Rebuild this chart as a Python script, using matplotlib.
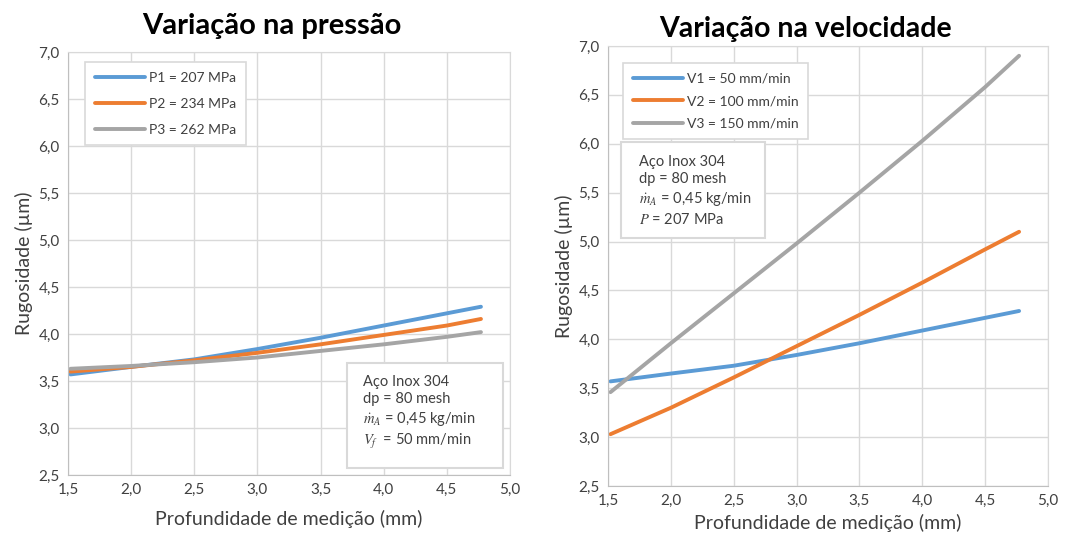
import matplotlib.pyplot as plt
from matplotlib.patches import Rectangle

plt.rcParams['font.family'] = ['Lato', 'DejaVu Sans']
plt.rcParams['mathtext.fontset'] = 'stix'

# depth of measurement (mm)
prof = [1.52, 2.0, 2.5, 3.0, 3.5, 4.0, 4.5, 4.77]

# pressure variation
p1 = [3.57, 3.65, 3.73, 3.84, 3.96, 4.09, 4.22, 4.29]
p2 = [3.60, 3.65, 3.72, 3.80, 3.89, 3.99, 4.09, 4.16]
p3 = [3.63, 3.66, 3.70, 3.75, 3.82, 3.89, 3.97, 4.02]

# speed variation
v1 = [3.57, 3.65, 3.73, 3.84, 3.96, 4.09, 4.22, 4.29]
v2 = [3.03, 3.30, 3.61, 3.93, 4.25, 4.58, 4.92, 5.10]
v3 = [3.46, 3.96, 4.47, 4.98, 5.50, 6.03, 6.58, 6.90]

labels_p = ['P1 = 207 MPa', 'P2 = 234 MPa', 'P3 = 262 MPa']
labels_v = ['V1 = 50 mm/min', 'V2 = 100 mm/min', 'V3 = 150 mm/min']
colors = ['#5B9BD5', '#ED7D31', '#A5A5A5']

W, H = 1069, 538
fig = plt.figure(figsize=(W / 100, H / 100), dpi=100)

def px_axes(x0, y0, x1, y1):
    return fig.add_axes([x0 / W, 1 - y1 / H, (x1 - x0) / W, (y1 - y0) / H])

ax1 = px_axes(68, 52, 510, 475)
ax2 = px_axes(608, 46, 1048, 486)

def style(ax):
    ax.set_xlim(1.5, 5.0)
    ax.set_ylim(2.5, 7.0)
    ticks_x = [1.5, 2.0, 2.5, 3.0, 3.5, 4.0, 4.5, 5.0]
    ticks_y = [2.5, 3.0, 3.5, 4.0, 4.5, 5.0, 5.5, 6.0, 6.5, 7.0]
    ax.set_xticks(ticks_x)
    ax.set_yticks(ticks_y)
    ax.set_xticklabels([f'{t:.1f}'.replace('.', ',') for t in ticks_x])
    ax.set_yticklabels([f'{t:.1f}'.replace('.', ',') for t in ticks_y])
    ax.grid(True, color='#D9D9D9', linewidth=1.0)
    ax.set_axisbelow(True)
    for s in ax.spines.values():
        s.set_color('#D9D9D9')
    ax.spines['left'].set_color('#BFBFBF')
    ax.spines['bottom'].set_color('#BFBFBF')
    ax.tick_params(length=0, labelsize=11, colors='#404040', pad=6)
    ax.set_ylabel('Rugosidade (µm)', fontsize=14, color='#404040', labelpad=4)

style(ax1)
style(ax2)

for y, lab, c in zip([p1, p2, p3], labels_p, colors):
    ax1.plot(prof, y, color=c, linewidth=2.8, label=lab, solid_capstyle='round')
for y, lab, c in zip([v1, v2, v3], labels_v, colors):
    ax2.plot(prof, y, color=c, linewidth=2.8, label=lab, solid_capstyle='round')

ax1.set_xlabel('Profundidade de medição (mm)', fontsize=14, color='#404040', labelpad=9)
ax2.set_xlabel('Profundidade de medição (mm)', fontsize=14, color='#404040', labelpad=4)

fig.text(272 / W, 1 - 26 / H, 'Variação na pressão', ha='center', va='center',
         fontsize=21, fontweight='bold', color='black')
fig.text(805 / W, 1 - 29 / H, 'Variação na velocidade', ha='center', va='center',
         fontsize=20.5, fontweight='bold', color='black')

leg_cfg = [(ax1, (0.038, 0.976), 1.0), (ax2, (0.034, 0.961), 0.75)]
for ax, anchor, lsp in leg_cfg:
    leg = ax.legend(loc='upper left', bbox_to_anchor=anchor, borderaxespad=0,
                    fontsize=10, fancybox=False, framealpha=1, edgecolor='#D9D9D9',
                    handlelength=3.6, handletextpad=0.3, borderpad=0.7,
                    labelspacing=lsp)
    leg.get_frame().set_linewidth(1.2)
    for t in leg.get_texts():
        t.set_color('#404040')

def info_box(ax, x0, y0, x1, y1, tx, ty, lines):
    ax.add_patch(Rectangle((x0, y0), x1 - x0, y1 - y0, transform=ax.transAxes,
                           facecolor='white', edgecolor='#D9D9D9', lw=1.5, zorder=5))
    ax.text(tx, ty, '\n'.join(lines), transform=ax.transAxes, fontsize=10.5,
            color='#404040', va='top', ha='left', linespacing=1.3, zorder=6)

info_box(ax1, 0.631, 0.0165, 0.984, 0.265, 0.667, 0.237,
         ['Aço Inox 304', 'dp = 80 mesh', '$\\dot{m}_A$ = 0,45 kg/min',
          '$V_f$  = 50 mm/min'])
info_box(ax2, 0.0295, 0.5636, 0.357, 0.782, 0.07, 0.752,
         ['Aço Inox 304', 'dp = 80 mesh', '$\\dot{m}_A$ = 0,45 kg/min',
          '$P$ = 207 MPa'])

fig.savefig('out.png', dpi=100, facecolor='white')
